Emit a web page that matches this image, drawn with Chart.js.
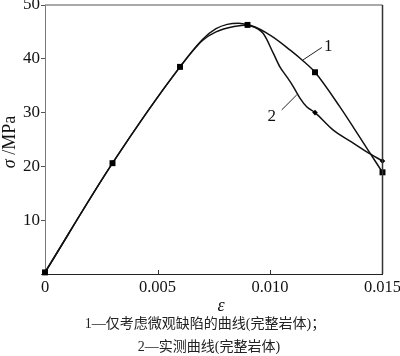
<!DOCTYPE html>
<html><head><meta charset="utf-8">
<script src="https://cdn.jsdelivr.net/npm/chart.js@4/dist/chart.umd.min.js"></script>
<style>html,body{margin:0;padding:0;background:#fff;}#wrap{position:relative;width:400px;height:356px;}</style>
</head><body><div id="wrap"><canvas id="c" width="400" height="356"></canvas></div>
<script>
// ---- data ----
const markerStrain = [0, 0.003, 0.006, 0.009, 0.012, 0.015];
const curve1MarkerStress = [0.3, 20.6, 38.5, 46.3, 37.5, 18.9];
const curve2MarkerStress = [0.3, 20.6, 38.5, 46.3, 30.0, 21.0];
const curve1Strain = [0, 0.003, 0.006, 0.0070, 0.0076, 0.0084, 0.009, 0.0100, 0.0109, 0.0115, 0.012, 0.0131, 0.0143, 0.015];
const curve1Stress = [0.3, 20.6, 38.5, 43.4, 45.0, 46.0, 46.3, 44.4, 41.6, 39.5, 37.5, 31.1, 23.4, 18.9];
const curve2Strain = [0, 0.003, 0.006, 0.0070, 0.0076, 0.0081, 0.0086, 0.009, 0.0097, 0.01015, 0.01044, 0.01074, 0.01104, 0.01133, 0.01163, 0.012, 0.0128, 0.0136, 0.0143, 0.015];
const curve2Stress = [0.3, 20.6, 38.5, 43.6, 45.6, 46.4, 46.6, 46.3, 44.7, 41.0, 38.5, 36.7, 34.8, 32.7, 31.1, 30.0, 26.8, 24.6, 22.7, 21.0];
const xTickValues = [0, 0.005, 0.010, 0.015];
const xTickLabels = ['0', '0.005', '0.010', '0.015'];
const yTickValues = [0, 10, 20, 30, 40, 50];
const yTickLabels = ['', '10', '20', '30', '40', '50'];
const curveLabels = ['1', '2'];
const yTitleParts = ['σ', ' /MPa'];
const xTitle = 'ε';
const captionLines = ['1—仅考虑微观缺陷的曲线(完整岩体)；', '2—实测曲线(完整岩体)'];

// annotation anchors (data coordinates) for the curve-number leaders
const leaders = [
  {text: curveLabels[0], from: [0.01147, 39.8], to: [0.01230, 42.1], at: [0.01259, 42.3]},
  {text: curveLabels[1], from: [0.01052, 30.5], to: [0.01119, 33.3], at: [0.01008, 29.2]}
];

const SERIF = '"Liberation Serif", "Times New Roman", serif';
const CJK = '"Liberation Serif", "Noto Sans CJK SC", serif';

const toXY = (xs, ys) => xs.map((v, i) => ({x: v, y: ys[i]}));

const decor = {
  id: 'decor',
  afterDraw(chart) {
    const {ctx, chartArea: a, scales: {x, y}} = chart;
    ctx.save();
    // top & right frame
    ctx.lineWidth = 1.5;
    ctx.strokeStyle = '#8c8c8c';
    ctx.beginPath(); ctx.moveTo(a.left, a.top); ctx.lineTo(a.right, a.top); ctx.stroke();
    ctx.strokeStyle = '#333';
    ctx.beginPath(); ctx.moveTo(a.right, a.top); ctx.lineTo(a.right, a.bottom); ctx.stroke();
    // inward x ticks
    ctx.lineWidth = 1; ctx.strokeStyle = '#333';
    xTickValues.slice(1, -1).forEach(v => {
      const px = Math.round(x.getPixelForValue(v)) + 0.5;
      ctx.beginPath(); ctx.moveTo(px, a.bottom); ctx.lineTo(px, a.bottom - 4); ctx.stroke();
    });
    // leaders + curve numbers
    ctx.strokeStyle = '#222'; ctx.lineWidth = 1;
    ctx.fillStyle = '#111';
    ctx.font = '17px ' + SERIF;
    ctx.textAlign = 'center'; ctx.textBaseline = 'middle';
    leaders.forEach(l => {
      ctx.beginPath();
      ctx.moveTo(x.getPixelForValue(l.from[0]), y.getPixelForValue(l.from[1]));
      ctx.lineTo(x.getPixelForValue(l.to[0]), y.getPixelForValue(l.to[1]));
      ctx.stroke();
      ctx.fillText(l.text, x.getPixelForValue(l.at[0]), y.getPixelForValue(l.at[1]));
    });
    // y title (mixed italic / upright), rotated
    ctx.save();
    ctx.translate(10, 142);
    ctx.rotate(-Math.PI / 2);
    const fItal = 'italic 18px ' + SERIF, fNorm = '18px ' + SERIF;
    ctx.font = fItal; const w1 = ctx.measureText(yTitleParts[0]).width;
    ctx.font = fNorm; const w2 = ctx.measureText(yTitleParts[1]).width;
    let sx = -(w1 + w2) / 2;
    ctx.textAlign = 'left';
    ctx.font = fItal; ctx.fillText(yTitleParts[0], sx, 0);
    ctx.font = fNorm; ctx.fillText(yTitleParts[1], sx + w1, 0);
    ctx.restore();
    // x title
    ctx.textAlign = 'center';
    ctx.font = 'italic 18px ' + SERIF;
    ctx.fillText(xTitle, 221, 306);
    // captions
    ctx.font = '14px ' + CJK;
    ctx.fillStyle = '#222';
    ctx.fillText(captionLines[0], 205, 324);
    ctx.fillText(captionLines[1], 209, 347);
    ctx.restore();
  }
};

new Chart(document.getElementById('c'), {
  type: 'line',
  data: {
    datasets: [
      {data: toXY(markerStrain, curve1MarkerStress), showLine: false, pointStyle: 'rect', pointRadius: 4.2,
       backgroundColor: '#000', borderColor: '#000', borderWidth: 0, clip: false},
      {data: toXY(markerStrain, curve2MarkerStress), showLine: false, pointStyle: 'rectRot', pointRadius: 2.8,
       backgroundColor: '#000', borderColor: '#000', borderWidth: 0, clip: false},
      {data: toXY(curve1Strain, curve1Stress), pointRadius: 0, borderColor: '#111', borderWidth: 1.5,
       cubicInterpolationMode: 'monotone', fill: false, clip: false},
      {data: toXY(curve2Strain, curve2Stress), pointRadius: 0, borderColor: '#111', borderWidth: 1.5,
       cubicInterpolationMode: 'monotone', fill: false, clip: false}
    ]
  },
  options: {
    responsive: false, animation: false, devicePixelRatio: 1,
    layout: {padding: {top: 5, right: 17.5, left: 0, bottom: 0}},
    plugins: {legend: {display: false}, tooltip: {enabled: false}},
    scales: {
      x: {
        type: 'linear', min: 0, max: 0.015,
        afterBuildTicks: s => { s.ticks = xTickValues.map(v => ({value: v})); },
        afterFit: s => { s.height = 82; s.paddingLeft = 0; s.paddingRight = 0; },
        grid: {display: false, drawTicks: false},
        border: {display: true, color: '#222', width: 1},
        ticks: {callback: (v, i) => xTickLabels[i], font: {family: SERIF, size: 16.5}, color: '#111',
                padding: 4, maxRotation: 0, autoSkip: false}
      },
      y: {
        type: 'linear', min: 0, max: 50,
        afterBuildTicks: s => { s.ticks = yTickValues.map(v => ({value: v})); },
        afterFit: s => { s.width = 45; s.paddingTop = 0; s.paddingBottom = 0; },
        grid: {drawOnChartArea: false, drawTicks: true, tickLength: 4, color: '#555'},
        border: {display: true, color: '#7a7a7a', width: 1},
        ticks: {callback: (v, i) => yTickLabels[i], font: {family: SERIF, size: 17}, color: '#111', padding: 1}
      }
    }
  },
  plugins: [decor]
});
</script></body></html>
